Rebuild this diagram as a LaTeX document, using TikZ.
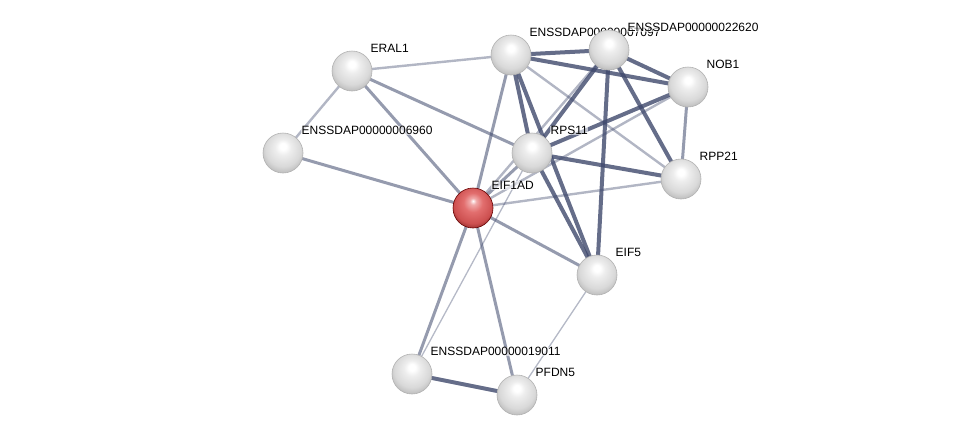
\documentclass[tikz,border=0pt]{standalone}
\usepackage{fontspec}
\setmainfont{Liberation Sans}
\usetikzlibrary{calc,backgrounds}
\definecolor{edgeblue}{RGB}{62,72,108}
\pgfdeclareradialshading{greyball}{\pgfpoint{0bp}{9bp}}{color(0bp)=(white); color(4bp)=(white); color(10bp)=(gray!14); color(22bp)=(gray!30); color(30bp)=(gray!55); color(50bp)=(gray!55)}
\pgfdeclareradialshading{redball}{\pgfpoint{0bp}{9bp}}{color(0bp)=(white); color(4bp)=({rgb,255:red,240;green,170;blue,170}); color(12bp)=({rgb,255:red,226;green,110;blue,110}); color(24bp)=({rgb,255:red,205;green,80;blue,80}); color(30bp)=({rgb,255:red,150;green,45;blue,45}); color(50bp)=({rgb,255:red,150;green,45;blue,45})}
\tikzset{
  protein/.style={circle, inner sep=0pt, minimum size=40pt, draw=gray!60, line width=0.6pt, shading=greyball},
  query/.style={protein, draw=red!40!black, shading=redball},
  plabel/.style={anchor=base west, inner sep=0.5pt, fill=white, fill opacity=0.6, text opacity=1, font=\fontsize{12}{14}\selectfont},
  strong/.style={edgeblue, line width=4pt, opacity=0.8},
  mid/.style={edgeblue, line width=3pt, opacity=0.55},
  weak/.style={edgeblue, line width=2.4pt, opacity=0.4},
  faint/.style={edgeblue, line width=1.3pt, opacity=0.38}
}
\begin{document}
\begin{tikzpicture}[x=1pt,y=-1pt]
            \useasboundingbox (0,0) rectangle (976,440);
            \node[protein] (eral) at (352,71) {};
            \node[plabel] (eral-lab) at ($(eral)+(18,-18.5)$) {ERAL1};
            \node[protein] (e6960) at (283,153) {};
            \node[plabel] (e6960-lab) at ($(e6960)+(18,-18.5)$) {ENSSDAP00000006960};
            \node[protein] (e7097) at (511,55) {};
            \node[plabel] (e7097-lab) at ($(e7097)+(18,-18.5)$) {ENSSDAP00000007097};
            \node[protein] (e22620) at (609,50) {};
            \node[plabel] (e22620-lab) at ($(e22620)+(18,-18.5)$) {ENSSDAP00000022620};
            \node[protein] (nob) at (688,87) {};
            \node[plabel] (nob-lab) at ($(nob)+(18,-18.5)$) {NOB1};
            \node[protein] (rps) at (532,153) {};
            \node[plabel] (rps-lab) at ($(rps)+(18,-18.5)$) {RPS11};
            \node[protein] (rpp) at (681,179) {};
            \node[plabel] (rpp-lab) at ($(rpp)+(18,-18.5)$) {RPP21};
            \node[query] (eif1ad) at (473,208) {};
            \node[plabel] (eif1ad-lab) at ($(eif1ad)+(18,-18.5)$) {EIF1AD};
            \node[protein] (eif5) at (597,275) {};
            \node[plabel] (eif5-lab) at ($(eif5)+(18,-18.5)$) {EIF5};
            \node[protein] (e19011) at (412,374) {};
            \node[plabel] (e19011-lab) at ($(e19011)+(18,-18.5)$) {ENSSDAP00000019011};
            \node[protein] (pfdn) at (517,395) {};
            \node[plabel] (pfdn-lab) at ($(pfdn)+(18,-18.5)$) {PFDN5};
            \begin{scope}[on background layer]
                \foreach \a/\b in {e7097/e22620,e7097/nob,e7097/rps,e7097/eif5,e22620/rps,e22620/nob,e22620/rpp,e22620/eif5,nob/rps,rps/rpp,rps/eif5,e19011/pfdn}{
                    \draw[strong] (\a.center) -- (\b.center);
                }
                \foreach \a/\b in {eral/eif1ad,eral/rps,e6960/eif1ad,eif1ad/e7097,eif1ad/rps,eif1ad/eif5,eif1ad/e19011,eif1ad/pfdn,nob/rpp}{
                    \draw[mid] (\a.center) -- (\b.center);
                }
                \foreach \a/\b in {eral/e7097,eral/e6960,eif1ad/e22620,eif1ad/nob,eif1ad/rpp,e7097/rpp}{
                    \draw[weak] (\a.center) -- (\b.center);
                }
                \draw[faint] (rps.center) -- (e19011.center);
                \draw[faint] (eif5.center) -- (pfdn.center);
            \end{scope}
        \end{tikzpicture}
\end{document}
